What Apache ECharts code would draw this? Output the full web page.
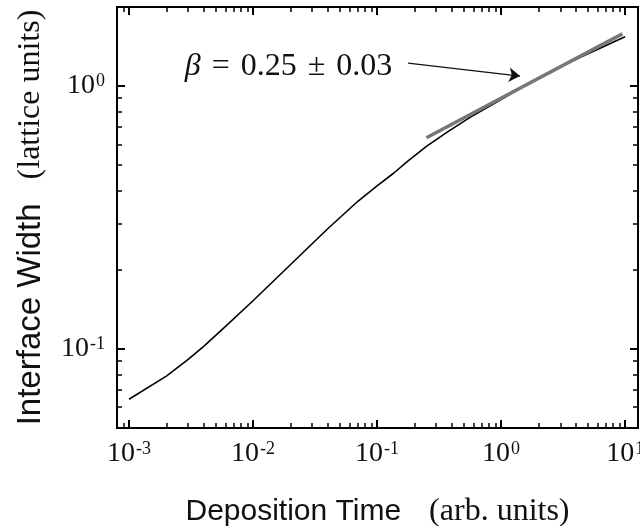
<!DOCTYPE html>
<html>
<head>
<meta charset="utf-8">
<script src="https://cdn.jsdelivr.net/npm/echarts@6/dist/echarts.min.js"></script>
<style>
html, body { margin: 0; padding: 0; background: #fff; }
#chart { width: 640px; height: 526px; }
</style>
</head>
<body>
<div id="chart"></div>
<script>
// interface width vs deposition time, log-log
var timeVals  = [0.001, 0.002, 0.003, 0.004, 0.006, 0.01, 0.02, 0.04, 0.07, 0.1, 0.135, 0.179, 0.25, 0.37, 0.562, 0.923, 1.51, 2.33, 3.6, 5.91, 8.57, 10];
var widthVals = [0.0643, 0.0788, 0.0912, 0.1023, 0.1218, 0.1525, 0.209, 0.2866, 0.3646, 0.4175, 0.465, 0.52, 0.59, 0.67, 0.76, 0.87, 0.995, 1.11, 1.235, 1.375, 1.49, 1.54];

// fitted power law (beta = 0.25)
var fitTime  = [0.25, 9.5];
var fitWidth = [0.636, 1.58];

// annotation
var betaText  = '{b|β}{s|=}0.25{s|±}0.03';
var labelAt   = [0.0193, 1.19];
var arrowFrom = [0.178, 1.224];
var arrowTo   = [1.42, 1.092];

// axes
var xMin = 0.0008, xMax = 12.7;
var yMin = 0.05, yMax = 2;
var xMajor = [0.001, 0.01, 0.1, 1, 10];
var yMajor = [0.1, 1];
var xMinor = [0.0009];
[0.001, 0.01, 0.1, 1].forEach(function (d) {
  for (var k = 2; k <= 9; k++) xMinor.push(+(k * d).toPrecision(3));
});
var yMinor = [0.06, 0.07, 0.08, 0.09, 0.2, 0.3, 0.4, 0.5, 0.6, 0.7, 0.8, 0.9];

var serif = 'Liberation Serif';
var sans = 'Liberation Sans';
var ink = '#111';

function powLabel(v) {
  var e = Math.round(Math.log10(v));
  return '{m|10}{e|' + e + '}';
}
var tickRich = {
  m: { fontFamily: serif, fontSize: 28, color: ink },
  e: { fontFamily: serif, fontSize: 18, color: ink, verticalAlign: 'top', padding: [0, 0, 0, 1] }
};

function makeAxis(dim, pos, ticks, len, withLabels) {
  var ax = {
    type: 'log',
    logBase: 10,
    min: dim === 'x' ? xMin : yMin,
    max: dim === 'x' ? xMax : yMax,
    position: pos,
    axisLine: { show: true, onZero: false, lineStyle: { color: '#000', width: 2 } },
    axisTick: { show: true, inside: true, length: len, customValues: ticks, lineStyle: { color: '#000', width: len > 6 ? 2 : 1.5 } },
    axisLabel: { show: false },
    splitLine: { show: false },
    minorTick: { show: false },
    minorSplitLine: { show: false }
  };
  if (withLabels) {
    ax.axisLabel = {
      show: true,
      customValues: ticks,
      margin: 12,
      formatter: powLabel,
      rich: tickRich
    };
  }
  return ax;
}

var xAxes = [
  makeAxis('x', 'bottom', xMajor, 8, true),
  makeAxis('x', 'bottom', xMinor, 5, false),
  makeAxis('x', 'top', xMajor, 8, false),
  makeAxis('x', 'top', xMinor, 5, false)
];
var yAxes = [
  makeAxis('y', 'left', yMajor, 8, true),
  makeAxis('y', 'left', yMinor, 5, false),
  makeAxis('y', 'right', yMajor, 8, false),
  makeAxis('y', 'right', yMinor, 5, false)
];

xAxes[0].name = '{s|Deposition Time}{g| }{r|(arb. units)}';
xAxes[0].nameLocation = 'middle';
xAxes[0].nameGap = 68;
xAxes[0].nameTextStyle = {
  rich: {
    s: { fontFamily: sans, fontSize: 30, color: ink },
    g: { width: 28 },
    r: { fontFamily: serif, fontSize: 32, color: ink }
  }
};
yAxes[0].name = '{s|Interface Width}{g| }{r|(lattice units)}';
yAxes[0].nameLocation = 'middle';
yAxes[0].nameRotate = 90;
yAxes[0].nameGap = 70;
yAxes[0].nameTextStyle = {
  rich: {
    s: { fontFamily: sans, fontSize: 33, color: ink },
    g: { width: 24 },
    r: { fontFamily: serif, fontSize: 32, color: ink }
  }
};

var chart = echarts.init(document.getElementById('chart'), null, { renderer: 'canvas' });
chart.setOption({
  animation: false,
  backgroundColor: '#fff',
  grid: { left: 117, right: 2, top: 7, bottom: 98, containLabel: false, outerBoundsMode: 'none' },
  xAxis: xAxes,
  yAxis: yAxes,
  series: [
    {
      type: 'line',
      data: timeVals.map(function (t, i) { return [t, widthVals[i]]; }),
      showSymbol: false,
      symbol: 'none',
      lineStyle: { color: '#000', width: 1.6 },
      z: 2
    },
    {
      type: 'line',
      data: fitTime.map(function (t, i) { return [t, fitWidth[i]]; }),
      showSymbol: false,
      symbol: 'none',
      lineStyle: { color: '#777', width: 3.5 },
      z: 3,
      markLine: {
        silent: true,
        symbol: ['none', 'arrow'],
        symbolSize: 11,
        lineStyle: { color: ink, width: 1.3, type: 'solid' },
        itemStyle: { color: ink },
        label: { show: false },
        data: [[{ coord: arrowFrom }, { coord: arrowTo }]]
      },
      markPoint: {
        silent: true,
        symbol: 'circle',
        symbolSize: 0,
        data: [{
          coord: labelAt,
          label: {
            show: true,
            position: 'inside',
            formatter: betaText,
            fontFamily: serif,
            fontSize: 32,
            color: ink,
            rich: {
              b: { fontFamily: serif, fontStyle: 'italic', fontSize: 32, color: ink },
              s: { fontFamily: serif, fontSize: 32, color: ink, padding: [0, 11, 0, 11] }
            }
          }
        }]
      }
    }
  ]
});
</script>
</body>
</html>
